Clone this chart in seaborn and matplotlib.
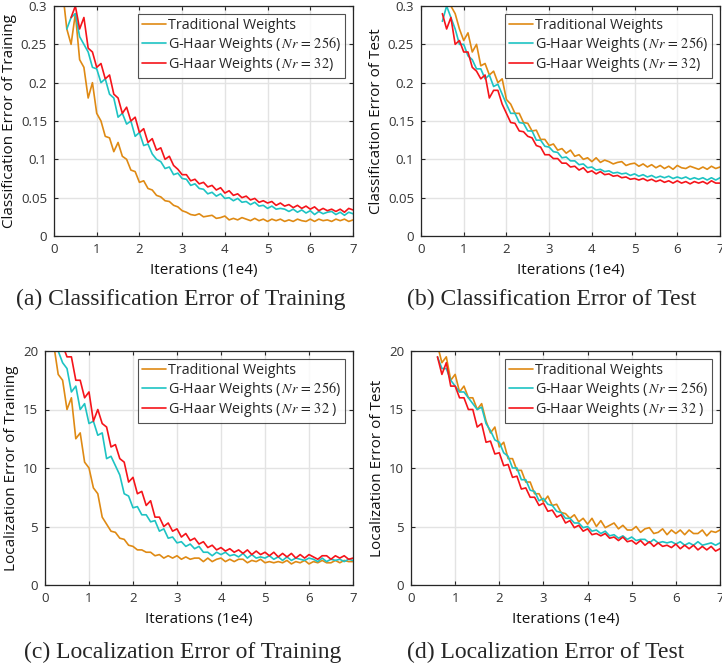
import numpy as np
import pandas as pd
import seaborn as sns
import matplotlib.pyplot as plt

# iteration grid step (in units of 1e4)
STEP = 0.1

# ---- (a) classification error, training ----
cls_train_trad_start = 0.2
cls_train_trad = [0.32, 0.27, 0.25, 0.29, 0.23, 0.22, 0.18, 0.20, 0.16, 0.15, 0.13, 0.128, 0.11, 0.122,
                  0.104, 0.1, 0.086, 0.084, 0.07, 0.072, 0.062, 0.06, 0.053, 0.051, 0.046, 0.045,
                  0.040, 0.038, 0.033, 0.031, 0.028, 0.027, 0.029, 0.025, 0.026, 0.027, 0.023, 0.024,
                  0.026, 0.021, 0.023, 0.021, 0.024, 0.022, 0.020, 0.023, 0.020, 0.022, 0.019, 0.022,
                  0.020, 0.022, 0.019, 0.021, 0.019, 0.022, 0.020, 0.019, 0.022, 0.019, 0.022, 0.020,
                  0.021, 0.019, 0.022, 0.020, 0.022, 0.019, 0.021]
cls_train_256_start = 0.3
cls_train_256 = [0.27, 0.285, 0.29, 0.26, 0.25, 0.24, 0.22, 0.218, 0.2, 0.205, 0.185, 0.18, 0.155,
                 0.16, 0.146, 0.15, 0.13, 0.135, 0.118, 0.12, 0.107, 0.1, 0.097, 0.088, 0.09, 0.08,
                 0.082, 0.075, 0.074, 0.066, 0.068, 0.062, 0.061, 0.055, 0.057, 0.052, 0.055, 0.049,
                 0.05, 0.046, 0.049, 0.044, 0.045, 0.041, 0.044, 0.039, 0.040, 0.036, 0.039, 0.035,
                 0.036, 0.035, 0.032, 0.035, 0.031, 0.034, 0.030, 0.033, 0.028, 0.032, 0.029, 0.031,
                 0.032, 0.028, 0.031, 0.027, 0.031, 0.029]
cls_train_32_start = 0.4
cls_train_32 = [0.285, 0.30, 0.27, 0.285, 0.245, 0.24, 0.22, 0.225, 0.205, 0.21, 0.185, 0.18, 0.16,
                0.168, 0.15, 0.155, 0.135, 0.14, 0.122, 0.127, 0.112, 0.115, 0.1, 0.104, 0.092, 0.087,
                0.08, 0.08, 0.072, 0.074, 0.068, 0.07, 0.064, 0.066, 0.06, 0.063, 0.056, 0.059,
                0.053, 0.055, 0.05, 0.052, 0.047, 0.049, 0.044, 0.046, 0.043, 0.045, 0.040, 0.043,
                0.039, 0.041, 0.037, 0.040, 0.036, 0.039, 0.035, 0.038, 0.033, 0.036, 0.033, 0.035,
                0.032, 0.035, 0.031, 0.036, 0.034]

# ---- (b) classification error, test ----
cls_test_trad_start = 0.6
cls_test_trad = [0.31, 0.30, 0.29, 0.27, 0.255, 0.265, 0.24, 0.25, 0.222, 0.225, 0.21, 0.215, 0.2,
                 0.205, 0.178, 0.172, 0.16, 0.16, 0.148, 0.147, 0.137, 0.138, 0.126, 0.126, 0.118, 0.12,
                 0.112, 0.114, 0.108, 0.112, 0.104, 0.106, 0.100, 0.102, 0.097, 0.102, 0.096, 0.099,
                 0.097, 0.094, 0.096, 0.097, 0.092, 0.094, 0.095, 0.091, 0.094, 0.090, 0.093, 0.089,
                 0.092, 0.088, 0.091, 0.087, 0.092, 0.089, 0.088, 0.091, 0.089, 0.087, 0.090, 0.087,
                 0.091, 0.088, 0.090]
cls_test_256_start = 0.5
cls_test_256 = [0.28, 0.30, 0.285, 0.27, 0.25, 0.25, 0.235, 0.23, 0.218, 0.218, 0.205, 0.21, 0.195,
                0.198, 0.185, 0.172, 0.16, 0.16, 0.148, 0.147, 0.137, 0.137, 0.125, 0.125, 0.117,
                0.116, 0.11, 0.109, 0.102, 0.103, 0.098, 0.098, 0.093, 0.094, 0.089, 0.090, 0.086,
                0.087, 0.084, 0.085, 0.082, 0.083, 0.081, 0.082, 0.079, 0.081, 0.078, 0.080, 0.077,
                0.079, 0.076, 0.078, 0.076, 0.078, 0.075, 0.077, 0.075, 0.077, 0.074, 0.076, 0.074,
                0.076, 0.073, 0.076, 0.073, 0.076]
cls_test_32_start = 0.5
cls_test_32 = [0.29, 0.27, 0.285, 0.25, 0.255, 0.24, 0.24, 0.22, 0.215, 0.205, 0.21, 0.18, 0.19,
               0.19, 0.172, 0.16, 0.148, 0.147, 0.137, 0.136, 0.13, 0.128, 0.118, 0.116, 0.106, 0.106,
               0.101, 0.101, 0.095, 0.095, 0.09, 0.091, 0.086, 0.089, 0.083, 0.085, 0.081, 0.084,
               0.080, 0.081, 0.078, 0.079, 0.076, 0.077, 0.074, 0.075, 0.073, 0.075, 0.072, 0.074,
               0.071, 0.073, 0.070, 0.072, 0.069, 0.072, 0.069, 0.071, 0.068, 0.071, 0.069, 0.071,
               0.068, 0.072, 0.069, 0.069]

# ---- (c) localization error, training ----
loc_train_trad_start = 0.2
loc_train_trad = [20.5, 18.0, 17.5, 15.0, 16.0, 12.5, 13.0, 10.5, 10.0, 8.3, 7.8, 5.8, 5.2, 4.6, 4.5,
                  4.0, 3.9, 3.4, 3.3, 3.0, 3.0, 2.8, 2.8, 2.5, 2.6, 2.3, 2.5, 2.3, 2.5, 2.2, 2.4, 2.2,
                  2.3, 2.3, 2.0, 2.3, 2.0, 2.2, 2.3, 2.0, 2.2, 2.0, 2.2, 2.2, 1.9, 2.1, 2.0, 2.2, 1.9,
                  2.0, 1.9, 2.0, 1.9, 2.1, 1.8, 2.0, 1.9, 2.1, 1.8, 2.0, 1.9, 2.1, 1.9, 1.9, 2.1, 1.9,
                  2.1, 2.0, 2.0]
loc_train_256_start = 0.3
loc_train_256 = [20.0, 19.0, 18.5, 16.5, 17.0, 15.0, 15.5, 13.8, 14.0, 12.8, 13.0, 10.8, 11.0, 10.2,
                 9.4, 7.8, 7.6, 6.6, 6.7, 6.0, 6.0, 5.4, 5.5, 4.6, 4.8, 4.0, 4.1, 3.6, 3.7, 3.3, 3.5,
                 3.1, 3.3, 2.8, 2.8, 2.5, 2.8, 2.6, 2.8, 2.5, 2.6, 2.4, 2.7, 2.3, 2.6, 2.3, 2.4, 2.3,
                 2.5, 2.2, 2.4, 2.1, 2.4, 2.1, 2.3, 2.2, 2.1, 2.3, 2.2, 2.0, 2.3, 2.0, 2.2, 2.1, 2.2,
                 2.0, 2.2, 2.1]
loc_train_32_start = 0.4
loc_train_32 = [20.5, 19.5, 19.5, 17.5, 17.5, 16.0, 16.5, 14.0, 15.0, 13.8, 13.5, 11.8, 12.0, 10.8,
                10.5, 8.8, 9.2, 7.8, 8.0, 6.8, 7.2, 5.8, 5.8, 5.0, 5.3, 4.6, 4.8, 4.1, 4.4, 3.8, 4.0,
                3.5, 3.7, 3.2, 3.4, 3.0, 3.2, 2.9, 3.1, 2.8, 3.0, 2.7, 3.0, 2.6, 2.9, 2.6, 2.8, 2.5,
                2.8, 2.4, 2.7, 2.4, 2.7, 2.3, 2.6, 2.3, 2.6, 2.4, 2.2, 2.5, 2.5, 2.2, 2.5, 2.3, 2.5,
                2.2, 2.3]

# ---- (d) localization error, test ----
loc_test_trad_start = 0.6
loc_test_trad = [20.5, 19.0, 19.5, 17.5, 18.0, 16.5, 17.0, 16.0, 16.0, 15.0, 15.5, 14.0, 13.0, 13.5,
                 11.8, 12.2, 10.8, 10.8, 9.8, 9.8, 8.8, 8.8, 7.8, 7.8, 7.1, 7.6, 6.8, 6.9, 6.2, 6.1,
                 5.7, 6.0, 5.4, 5.7, 5.2, 5.7, 5.0, 5.5, 4.9, 5.1, 5.3, 4.8, 5.1, 4.7, 4.7, 5.0, 4.5,
                 4.8, 4.9, 4.4, 4.5, 4.8, 4.3, 4.7, 4.4, 4.7, 4.3, 4.7, 4.4, 4.4, 4.7, 4.2, 4.6, 4.5,
                 4.7]
loc_test_256_start = 0.6
loc_test_256 = [19.5, 18.5, 18.5, 17.5, 17.0, 16.5, 16.5, 16.0, 15.5, 15.0, 15.2, 13.8, 13.2, 12.4,
                12.2, 11.3, 11.0, 10.0, 10.0, 9.0, 9.0, 8.1, 8.0, 7.2, 7.4, 6.9, 6.8, 6.3, 6.2, 5.7,
                5.7, 5.3, 5.3, 4.9, 5.0, 4.6, 4.7, 4.4, 4.6, 4.2, 4.3, 4.0, 4.2, 3.9, 4.1, 3.8, 3.9,
                3.9, 3.6, 3.9, 3.6, 3.7, 3.6, 3.7, 3.5, 3.7, 3.4, 3.6, 3.4, 3.7, 3.4, 3.5, 3.6, 3.4,
                3.6]
loc_test_32_start = 0.6
loc_test_32 = [19.5, 18.0, 19.0, 17.0, 17.0, 16.0, 16.0, 15.0, 15.0, 13.5, 13.8, 12.2, 12.3, 11.2,
               11.3, 10.2, 10.3, 9.2, 9.3, 8.2, 8.3, 7.5, 7.5, 6.8, 7.0, 6.3, 6.4, 5.8, 6.0, 5.3,
               5.5, 4.9, 5.1, 4.6, 4.8, 4.3, 4.4, 4.2, 4.4, 4.0, 4.1, 3.8, 4.1, 3.7, 3.8, 3.5, 3.8,
               3.4, 3.7, 3.3, 3.6, 3.3, 3.4, 3.2, 3.5, 3.1, 3.4, 3.1, 3.4, 3.0, 3.3, 3.0, 3.3, 2.9,
               3.1]

methods = ["Traditional Weights", "G-Haar Weights (Nr = 256)", "G-Haar Weights (Nr = 32)"]
colors = ["#DF8A14", "#1EC3C3", "#F5141A"]
x_ticks = [0, 1, 2, 3, 4, 5, 6, 7]


def make_frame(series):
    rows = []
    for method, (start, vals) in zip(methods, series):
        its = np.round(start + STEP * np.arange(len(vals)), 2)
        rows.append(pd.DataFrame({"iter": its, "err": vals, "method": method}))
    return pd.concat(rows, ignore_index=True)


lab256 = r"G-Haar Weights ($\,\mathit{Nr}\,=\,256$)"
panels = [
    dict(series=[(cls_train_trad_start, cls_train_trad), (cls_train_256_start, cls_train_256),
                 (cls_train_32_start, cls_train_32)],
         ylabel="Classification Error of Training", ylim=(0, 0.3),
         yticks=[0, 0.05, 0.1, 0.15, 0.2, 0.25, 0.3], ytl=["0", "0.05", "0.1", "0.15", "0.2", "0.25", "0.3"],
         caption="(a) Classification Error of Training", box=(54, 6, 353, 236), cap=(181, 299),
         labels=["Traditional Weights", lab256, r"G-Haar Weights ($\,\mathit{Nr}\,=\,32$)"]),
    dict(series=[(cls_test_trad_start, cls_test_trad), (cls_test_256_start, cls_test_256),
                 (cls_test_32_start, cls_test_32)],
         ylabel="Classification Error of Test", ylim=(0, 0.3),
         yticks=[0, 0.05, 0.1, 0.15, 0.2, 0.25, 0.3], ytl=["0", "0.05", "0.1", "0.15", "0.2", "0.25", "0.3"],
         caption="(b) Classification Error of Test", box=(421, 6, 720, 236), cap=(552, 299),
         labels=["Traditional Weights", lab256, r"G-Haar Weights ($\,\mathit{Nr}\,=\,32$)"]),
    dict(series=[(loc_train_trad_start, loc_train_trad), (loc_train_256_start, loc_train_256),
                 (loc_train_32_start, loc_train_32)],
         ylabel="Localization Error of Training", ylim=(0, 20),
         yticks=[0, 5, 10, 15, 20], ytl=["0", "5", "10", "15", "20"],
         caption="(c) Localization Error of Training", box=(45, 351, 353, 585), cap=(183, 652),
         labels=["Traditional Weights", lab256, r"G-Haar Weights ($\,\mathit{Nr}\,=\,32$ )"]),
    dict(series=[(loc_test_trad_start, loc_test_trad), (loc_test_256_start, loc_test_256),
                 (loc_test_32_start, loc_test_32)],
         ylabel="Localization Error of Test", ylim=(0, 20),
         yticks=[0, 5, 10, 15, 20], ytl=["0", "5", "10", "15", "20"],
         caption="(d) Localization Error of Test", box=(411, 351, 720, 585), cap=(546, 652),
         labels=["Traditional Weights", lab256, r"G-Haar Weights ($\,\mathit{Nr}\,=\,32$ )"]),
]

sns.set_style("ticks")
plt.rcParams["font.family"] = ["Open Sans", "DejaVu Sans"]
plt.rcParams["mathtext.fontset"] = "stix"

W, H = 722, 665
fig = plt.figure(figsize=(W / 100, H / 100), dpi=100)

for p in panels:
    l, t, r, b = p["box"]
    ax = fig.add_axes([l / W, 1 - b / H, (r - l) / W, (b - t) / H])
    df = make_frame(p["series"])
    sns.lineplot(data=df, x="iter", y="err", hue="method", palette=colors, hue_order=methods,
                 linewidth=1.2, ax=ax, legend=False, estimator=None, sort=False)
    ax.set_xlim(0, 7)
    ax.set_ylim(*p["ylim"])
    ax.set_xticks(x_ticks)
    ax.set_yticks(p["yticks"])
    ax.set_yticklabels(p["ytl"])
    ax.grid(True, color="#E3E3E3", linewidth=1.0)
    ax.set_axisbelow(True)
    for s in ax.spines.values():
        s.set_color("#262626")
        s.set_linewidth(0.9)
    ax.tick_params(direction="in", length=3, width=0.8, colors="#262626", labelsize=9.5,
                   labelcolor="#333333", pad=5, top=True, right=True)
    ax.set_xlabel("Iterations (1e4)", fontsize=11, color="#111111", labelpad=5)
    ax.set_ylabel(p["ylabel"], fontsize=11, color="#111111", labelpad=3)
    handles = ax.get_lines()[:3]
    leg = ax.legend(handles, p["labels"], loc="upper right", fontsize=10.3, frameon=True, fancybox=False,
                    borderaxespad=0.55, handlelength=1.7, handletextpad=0.1, labelspacing=0.1,
                    borderpad=0.3)
    leg.get_frame().set_edgecolor("#262626")
    leg.get_frame().set_linewidth(0.8)
    fig.text(p["cap"][0] / W, 1 - p["cap"][1] / H, p["caption"], ha="center", va="center",
             fontsize=17, family=["Liberation Serif", "DejaVu Serif"])

fig.savefig("out.png", dpi=100)
